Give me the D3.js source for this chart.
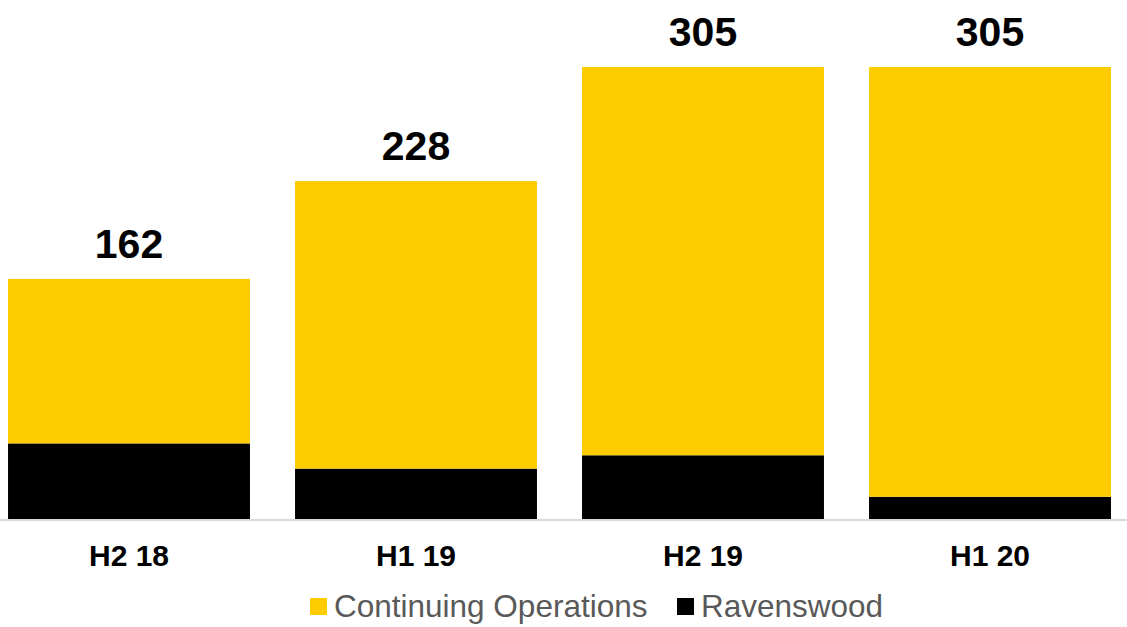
<!DOCTYPE html>
<html>
<head>
<meta charset="utf-8">
<script src="https://cdn.jsdelivr.net/npm/d3@7"></script>
<style>
  html, body { margin: 0; padding: 0; background: #fff; }
  svg { display: block; font-family: "Liberation Sans", Arial, sans-serif; }
</style>
</head>
<body>
<svg id="chart" width="1127" height="627"></svg>
<script>
// Half-year periods
const periods = ["H2 18", "H1 19", "H2 19", "H1 20"];
// Stacked series values
const ravenswood = [51, 34, 43, 15];
const continuingOps = [111, 194, 262, 290];
// Totals shown above each bar
const totals = [162, 228, 305, 305];

const seriesNames = ["Ravenswood", "Continuing Operations"];
const colors = { "Continuing Operations": "#FFCC00", "Ravenswood": "#000000" };

const W = 1127, H = 627;
const svg = d3.select("#chart");

const baseY = 519;
const x = d3.scaleBand().domain(periods).range([-14.5, 1133.5]).paddingInner(0.157).paddingOuter(0.0785);
const y = d3.scaleLinear().domain([0, 305]).range([baseY, 67]);

const rows = periods.map((p, i) => ({ period: p, "Ravenswood": ravenswood[i], "Continuing Operations": continuingOps[i] }));
const stack = d3.stack().keys(seriesNames)(rows);

svg.append("g").selectAll("g")
  .data(stack)
  .join("g")
  .attr("fill", d => colors[d.key])
  .selectAll("rect")
  .data(d => d)
  .join("rect")
  .attr("x", d => x(d.data.period))
  .attr("width", x.bandwidth())
  .attr("y", d => y(d[1]))
  .attr("height", d => y(d[0]) - y(d[1]));

// Baseline axis
svg.append("line")
  .attr("x1", 0).attr("x2", W)
  .attr("y1", baseY + 1).attr("y2", baseY + 1)
  .attr("stroke", "#d9d9d9").attr("stroke-width", 2);

// Category labels
svg.append("g").selectAll("text")
  .data(periods)
  .join("text")
  .attr("x", d => x(d) + x.bandwidth() / 2)
  .attr("y", 566)
  .attr("text-anchor", "middle")
  .attr("font-size", 30)
  .attr("font-weight", "bold")
  .attr("fill", "#000")
  .text(d => d);

// Total labels
svg.append("g").selectAll("text")
  .data(totals)
  .join("text")
  .attr("x", (d, i) => x(periods[i]) + x.bandwidth() / 2)
  .attr("y", d => y(d) - 21)
  .attr("text-anchor", "middle")
  .attr("font-size", 41)
  .attr("font-weight", "bold")
  .attr("fill", "#000")
  .text(d => d);

// Legend
const legendItems = [
  { name: "Continuing Operations", x: 310 },
  { name: "Ravenswood", x: 677 }
];
const lg = svg.append("g");
legendItems.forEach(item => {
  lg.append("rect")
    .attr("x", item.x).attr("y", 598)
    .attr("width", 17).attr("height", 17)
    .attr("fill", colors[item.name]);
  lg.append("text")
    .attr("x", item.x + 24).attr("y", 617)
    .attr("font-size", 31.5)
    .attr("fill", "#595959")
    .text(item.name);
});
</script>
</body>
</html>
